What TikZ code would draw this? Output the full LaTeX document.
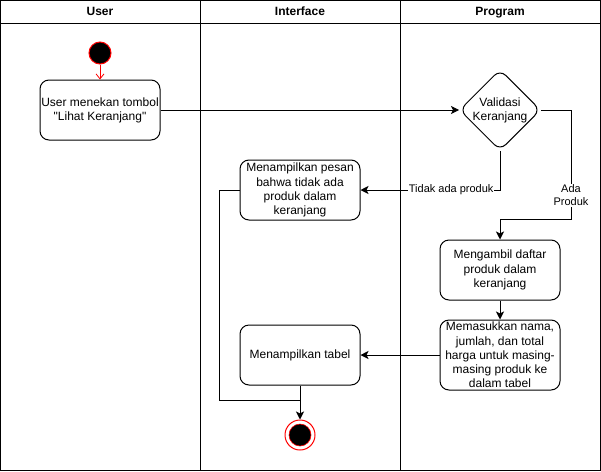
\documentclass[tikz,border=0pt]{standalone}
\usepackage{fontspec}
\setmainfont{Liberation Sans}
\usetikzlibrary{arrows.meta,shapes.geometric}

\begin{document}
\begin{tikzpicture}[x=1pt,y=-1pt,line width=1pt,
  act/.style={draw,rounded corners=9pt,minimum width=120pt,minimum height=60pt,
    align=center,inner sep=1pt,font=\fontsize{12}{14.2}\selectfont},
  decide/.style={draw,diamond,rounded corners=8pt,minimum width=81pt,minimum height=81pt,
    aspect=1,inner sep=0pt,align=center,font=\fontsize{12}{14.2}\selectfont},
  lanehead/.style={font=\bfseries\fontsize{12}{14}\selectfont,text height=9pt,text depth=3pt},
  flow/.style={-{Stealth[length=8pt,width=8pt,inset=2pt]}},
  guard/.style={fill=white,inner sep=1pt,align=center,font=\fontsize{11}{13}\selectfont}]
\useasboundingbox (0,0) rectangle (601,471);

% swimlanes
\draw (0.5,0.5) rectangle (600.5,470.5);
\draw (0.5,23) -- (600.5,23);
\draw (200,0.5) -- (200,470.5);
\draw (400,0.5) -- (400,470.5);
\node[lanehead] (hUser) at (100,12) {User};
\node[lanehead] (hIface) at (300,12) {Interface};
\node[lanehead] (hProg) at (500,12) {Program};

% nodes
\node[circle,draw=red,fill=black,minimum size=22pt,inner sep=0pt] (start) at (100,53) {};
\node[act] (press) at (100,110) {User menekan tombol\\\textquotedbl Lihat Keranjang\textquotedbl};
\node[decide] (valid) at (500,110) {Validasi\\Keranjang};
\node[act] (msg) at (300,190) {Menampilkan pesan\\bahwa tidak ada\\produk dalam\\keranjang};
\node[act] (fetch) at (500,270) {Mengambil daftar\\produk dalam\\keranjang};
\node[act,minimum height=70pt] (fill) at (500,355) {Memasukkan nama,\\jumlah, dan total\\harga untuk masing-\\masing produk ke\\dalam tabel};
\node[act] (table) at (300,355) {Menampilkan tabel};
\node[circle,draw=red,fill=white,minimum size=30pt,inner sep=0pt] (stop) at (300,435) {};
\filldraw[draw=red,fill=black,line width=0.6pt] (stop.center) circle (11);
\coordinate (join) at (300,400);

% connectors
\draw[red,line width=0.8pt,-{Straight Barb[length=5pt,width=8pt]}] (start.south) -- (press.north);
\draw[flow] (press.east) -- (valid.west);
\draw[flow] (valid.south) |- node[guard,pos=0.675] {Tidak ada produk} (msg.east);
\draw[flow] (valid.east) -- ++(30,0) |- node[guard,pos=0.39] {Ada\\Produk} ([yshift=20pt]fetch.north) -- (fetch.north);
\draw[flow] (fetch.south) -- (fill.north);
\draw[flow] (fill.west) -- (table.east);
\draw[flow] (table.south) -- (stop.north);
\draw (msg.west) -- ++(-20,0) |- (join);
\end{tikzpicture}
\end{document}
